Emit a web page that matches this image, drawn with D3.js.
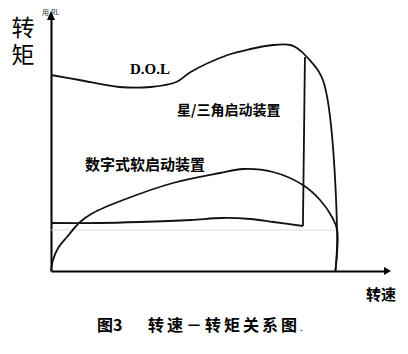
<!DOCTYPE html>
<html lang="zh">
<head>
<meta charset="utf-8">
<title>转速-转矩关系图</title>
<script src="https://d3js.org/d3.v7.min.js"></script>
<style>
  body { margin: 0; background: #fff; }
  svg { display: block; }
</style>
</head>
<body>
<script>
const W = 408, H = 354;

// speed (% of sync speed) / torque (arbitrary units)
const dolSpeed = [0, 10, 24, 35, 44, 49, 62, 70, 78, 84, 86.3, 89.8, 95.4, 100.4, 99.8];
const dolTorque = [196, 191, 184, 184, 189, 199, 216, 222, 226, 226, 223, 214, 191, 39, 0];

const softSpeed = [0, 0.7, 2.5, 5.6, 10.2, 14.7, 25.3, 42.8, 59.3, 67.4, 77.9, 88.4, 94.4, 98.6, 100.4, 99.8];
const softTorque = [0, 11, 23, 34, 49, 58, 71, 88, 98, 102, 99, 86, 71, 54, 41, 0];

const ydSpeed = [0, 17, 31, 49, 60, 70, 78, 88.4, 89.1];
const ydTorque = [48, 48, 49, 51, 53, 52, 49, 45, 214];

const labels = ["D.O.L", "星/三角启动装置", "数字式软启动装置"];

const x = d3.scaleLinear().domain([0, 100]).range([51, 336]);
const y = d3.scaleLinear().domain([0, 250]).range([271, 21]);

const svg = d3.select("body").append("svg")
  .attr("width", W).attr("height", H);

// axes without ticks
svg.append("g")
  .attr("transform", "translate(0," + y(0) + ")")
  .call(d3.axisBottom(x.copy().domain([0, 119]).range([51, 384])).tickValues([]).tickSizeOuter(0))
  .select(".domain").attr("stroke", "#000").attr("stroke-width", 2);

svg.append("g")
  .attr("transform", "translate(" + x(0) + ",0)")
  .call(d3.axisLeft(y.copy().domain([0, 257]).range([271, 14])).tickValues([]).tickSizeOuter(0))
  .select(".domain").attr("stroke", "#000").attr("stroke-width", 2);

// arrow heads
svg.append("path")
  .attr("d", "M" + 384 + "," + (y(0) - 4) + " L391," + y(0) + " L384," + (y(0) + 4) + "Z")
  .attr("fill", "#000");
svg.append("path")
  .attr("d", "M" + (x(0) - 4) + ",20 L" + x(0) + ",11 L" + (x(0) + 4) + ",20Z")
  .attr("fill", "#000");

const line = d3.line()
  .x(d => x(d[0])).y(d => y(d[1]))
  .curve(d3.curveCatmullRom.alpha(0.5));

const lineLin = d3.line()
  .x(d => x(d[0])).y(d => y(d[1]));

// faint scan line
svg.append("line")
  .attr("x1", x(0)).attr("x2", x(100.4))
  .attr("y1", y(41)).attr("y2", y(41))
  .attr("stroke", "#ddd").attr("stroke-width", 1);

svg.append("path")
  .datum(d3.zip(dolSpeed, dolTorque))
  .attr("d", line)
  .attr("fill", "none").attr("stroke", "#111").attr("stroke-width", 1.8);

svg.append("path")
  .datum(d3.zip(softSpeed, softTorque))
  .attr("d", line)
  .attr("fill", "none").attr("stroke", "#111").attr("stroke-width", 1.8);

const yd = d3.zip(ydSpeed, ydTorque);
svg.append("path")
  .datum(yd.slice(0, 8))
  .attr("d", line)
  .attr("fill", "none").attr("stroke", "#111").attr("stroke-width", 1.8);
svg.append("path")
  .datum(yd.slice(7))
  .attr("d", lineLin)
  .attr("fill", "none").attr("stroke", "#111").attr("stroke-width", 1.8);

// curve labels
svg.append("text").attr("x", 130).attr("y", 74)
  .attr("font-family", "Liberation Serif").attr("font-weight", "bold")
  .attr("font-size", 15).text(labels[0]);

svg.append("text").attr("x", 177).attr("y", 115)
  .attr("font-family", "Noto Sans CJK SC").attr("font-weight", "bold")
  .attr("font-size", 14).text(labels[1]);

svg.append("text").attr("x", 85).attr("y", 170)
  .attr("font-family", "Noto Sans CJK SC").attr("font-weight", "bold")
  .attr("font-size", 15).text(labels[2]);

// axis titles
svg.append("text").attr("x", 23).attr("y", 16)
  .attr("writing-mode", "tb")
  .attr("letter-spacing", 4)
  .attr("font-family", "Noto Sans CJK SC").attr("font-size", 23).text("转矩");
svg.append("text").attr("x", 42).attr("y", 15)
  .attr("font-family", "Noto Sans CJK SC").attr("font-size", 7).attr("fill", "#333").text("用.RL");

svg.append("text").attr("x", 366).attr("y", 300)
  .attr("font-family", "Noto Sans CJK SC").attr("font-weight", "bold")
  .attr("font-size", 15).text("转速");

// caption
svg.append("text").attr("x", 97).attr("y", 331)
  .attr("font-family", "Noto Sans CJK SC").attr("font-weight", "bold")
  .attr("font-size", 16).text("图3");
svg.append("text").attr("x", 148).attr("y", 331)
  .attr("font-family", "Noto Sans CJK SC").attr("font-weight", "bold")
  .attr("font-size", 16).attr("letter-spacing", 3).text("转速－转矩关系图");
svg.append("text").attr("x", 300).attr("y", 331)
  .attr("font-family", "Noto Sans CJK SC").attr("font-size", 10).text(".");
</script>
</body>
</html>
